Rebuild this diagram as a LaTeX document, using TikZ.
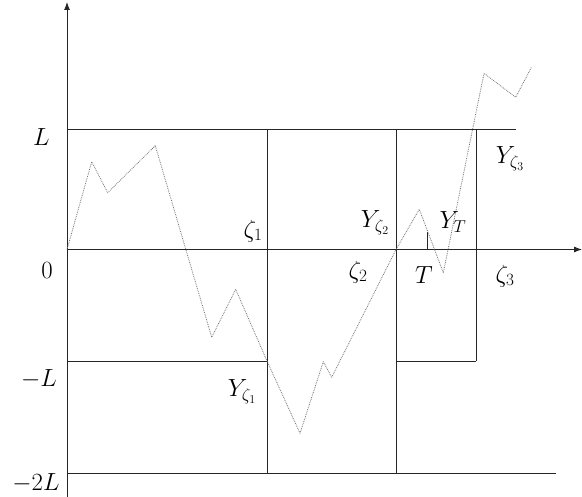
\documentclass[tikz,border=0pt]{standalone}
\usetikzlibrary{arrows.meta}
\begin{document}
\begin{tikzpicture}[x=1bp,y=-1bp,
  ax/.style={line width=0.9bp, black!85, -{Latex[length=8bp,width=6bp]}},
  ln/.style={line width=0.9bp, black!85},
  walk/.style={black!55, densely dotted, line width=0.8bp, line join=round},
  lab/.style={font=\fontsize{26}{30}\selectfont, inner sep=0pt}]
\useasboundingbox (0,0) rectangle (582,497);
% axes
\coordinate (O) at (67,249.5);
\coordinate (yb) at (67,497);
\coordinate (yt) at (67,2);
\coordinate (xe) at (582,249.5);
\draw[ax] (yb) -- (yt);
\draw[ax] (O) -- (xe);
% level lines
\coordinate (L0) at (67,129.5);   \coordinate (L1) at (516,129.5);
\coordinate (mL0) at (67,361);    \coordinate (mL1) at (267,361);
\coordinate (mL2) at (396,361);   \coordinate (mL3) at (476,361);
\coordinate (tL0) at (67,473);    \coordinate (tL1) at (556,473);
\draw[ln] (L0) -- (L1);
\draw[ln] (mL0) -- (mL1);
\draw[ln] (mL2) -- (mL3);
\draw[ln] (tL0) -- (tL1);
% vertical lines
\coordinate (z1t) at (267,129.5); \coordinate (z1b) at (267,473);
\coordinate (z2t) at (396,129.5); \coordinate (z2b) at (396,473);
\coordinate (z3t) at (476,129.5); \coordinate (z3b) at (476,361);
\draw[ln] (z1t) -- (z1b);
\draw[ln] (z2t) -- (z2b);
\draw[ln] (z3t) -- (z3b);
% Y_T mark
\coordinate (yT0) at (427.5,232); \coordinate (yT1) at (427.5,249.5);
\draw[ln] (yT0) -- (yT1);
% random walk
\draw[walk] (67,249.5) -- (91.7,161.7) -- (107.7,192.7) -- (155.3,145.7)
  -- (211.7,337.3) -- (235.7,289.3) -- (267,361) -- (300,433.3)
  -- (323.3,361.7) -- (331.7,377.3) -- (396,249.5) -- (419.3,209.3)
  -- (443.3,272.7) -- (484,73.3) -- (515.7,97.3) -- (531.7,66.7);
% labels
\node[lab] (lL) at (41.5,137) {$L$};
\node[lab] (l0) at (47,271) {$0$};
\node[lab] (lmL) at (39,379) {$-L$};
\node[lab] (lm2L) at (36,483) {$-2L$};
\node[lab] (lz1) at (253,231) {$\zeta_1$};
\node[lab] (lYz2) at (375,223) {$Y_{\zeta_2}$};
\node[lab] (lz2) at (358,272) {$\zeta_2$};
\node[lab] (lT) at (424,275) {$T$};
\node[lab] (lYT) at (453,222) {$Y_T$};
\node[lab] (lz3) at (505,276) {$\zeta_3$};
\node[lab] (lYz3) at (510,159) {$Y_{\zeta_3}$};
\node[lab] (lYz1) at (242,392) {$Y_{\zeta_1}$};
\end{tikzpicture}
\end{document}
